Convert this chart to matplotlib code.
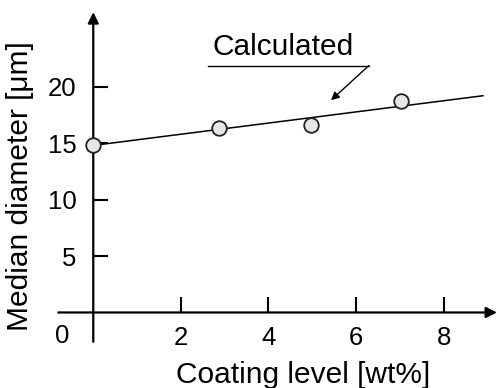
import matplotlib.pyplot as plt

plt.rcParams['font.family'] = ['Liberation Sans', 'DejaVu Sans']

# measured points
coating = [0.0, 2.88, 4.97, 7.02]
diameter = [14.8, 16.3, 16.6, 18.7]

# calculated line
calc_x = [0.0, 8.9]
calc_y = [14.8, 19.2]

xticks = [2, 4, 6, 8]
yticks = [5, 10, 15, 20]

fig = plt.figure(figsize=(4.97, 3.88), dpi=100)
ax = fig.add_axes([0, 0, 1, 1])
ax.set_xlim(-2.13, 9.22)
ax.set_ylim(-6.69, 27.68)

for s in ax.spines.values():
    s.set_visible(False)
ax.spines['left'].set_position(('data', 0))
ax.spines['bottom'].set_position(('data', 0))

# axes with arrows
ax.annotate('', xy=(9.22, 0), xytext=(-0.8, 0),
            arrowprops=dict(arrowstyle='-|>', color='black', lw=1.6,
                            mutation_scale=16, shrinkA=0, shrinkB=0))
ax.annotate('', xy=(0, 26.6), xytext=(0, -2.6),
            arrowprops=dict(arrowstyle='-|>', color='black', lw=1.6,
                            mutation_scale=16, shrinkA=0, shrinkB=0))

ax.set_xticks(xticks)
ax.set_yticks(yticks)
ax.tick_params(axis='both', direction='in', length=11, width=1.5,
               labelsize=18.5, colors='black')
ax.tick_params(axis='x', pad=10)
ax.tick_params(axis='y', pad=12)
ax.text(-0.72, -2.1, '0', fontsize=18.5, ha='center', va='center')

ax.plot(calc_x, calc_y, color='black', lw=1.1, zorder=3)
ax.plot(coating, diameter, 'o', ms=10.5, mfc='#e6e6e6', mec='#222222',
        mew=1.3, zorder=4, clip_on=False)

# annotation
ax.text(4.34, 23.5, 'Calculated', fontsize=21.5, ha='center', va='center')
ax.plot([2.62, 6.29], [21.86, 21.86], color='black', lw=1.0)
ax.annotate('', xy=(5.43, 18.8), xytext=(6.29, 21.86),
            arrowprops=dict(arrowstyle='-|>', color='black', lw=1.0,
                            mutation_scale=12, shrinkA=0, shrinkB=0))

ax.set_xlabel('Coating level [wt%]', fontsize=21.5)
ax.set_ylabel('Median diameter [μm]', fontsize=21.5)
ax.xaxis.set_label_coords(0.61, 0.034)
ax.yaxis.set_label_coords(0.04, 0.52)
ax.xaxis.label.set_va('center')
ax.yaxis.label.set_va('center')

fig.savefig('out.png', dpi=100)
